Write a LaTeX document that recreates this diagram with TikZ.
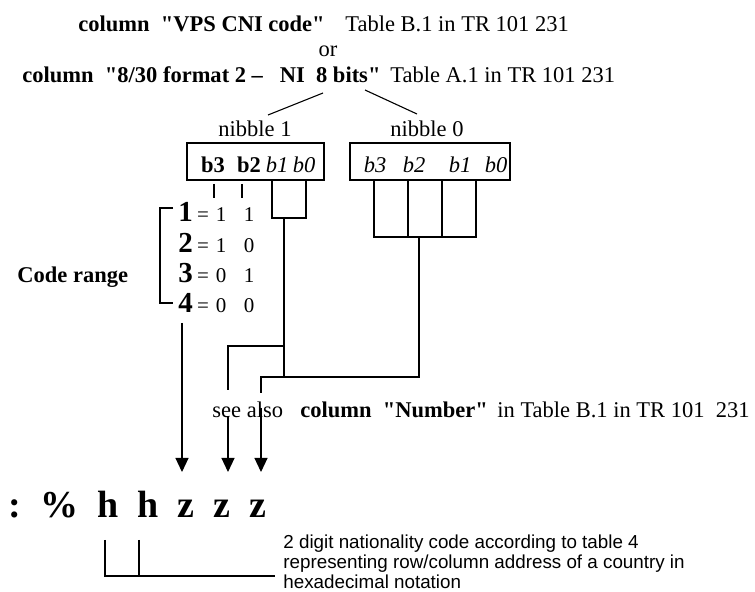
\documentclass[tikz,border=0pt]{standalone}
\usepackage{fontspec}
\setmainfont{Liberation Serif}[Ligatures=TeXOff]
\setsansfont{Liberation Sans}
\usetikzlibrary{arrows.meta}
\newcommand{\rowval}[3]{{\fontsize{14.5pt}{15pt}\selectfont\bfseries #1}\hspace{2.1pt}{\fontsize{10.5pt}{11pt}\selectfont =\hspace{3.5pt}#2\hspace{8.7pt}#3}}
\begin{document}
\begin{tikzpicture}[x=0.5pt,y=-0.5pt,
  txt/.style={inner sep=0pt, font=\fontsize{11.25pt}{13pt}\selectfont},
  btxt/.style={inner sep=0pt, font=\fontsize{11.25pt}{13pt}\selectfont\bfseries},
  itxt/.style={inner sep=0pt, font=\fontsize{11.25pt}{13pt}\selectfont\itshape},
  note/.style={inner sep=0pt, font=\sffamily\fontsize{9.4pt}{10pt}\selectfont},
  wire/.style={line width=0.55pt},
  arr/.style={wire, -{Triangle[width=6.5pt,length=7pt]}},
  bitbox/.style={draw, line width=0.55pt, inner sep=0pt, minimum height=18.5pt}]
\useasboundingbox (0,0) rectangle (755,592);

% ---- top lines
\node[btxt, anchor=base west] (vps) at (78,32) {column\ \ "VPS CNI code"};
\node[txt, anchor=base west] (vpsref) at (345,32) {Table B.1 in TR 101 231};
\node[txt, anchor=base] (or) at (328,57) {or};
\node[btxt, anchor=base west] (ni) at (22,83) {column\ \ "8/30 format 2 –\ \ \ NI\ \ 8 bits"};
\node[txt, anchor=base west] (niref) at (390,83) {Table A.1 in TR 101 231};

% ---- nibbles
\node[txt, anchor=base] (nib1) at (255,137) {nibble 1};
\node[txt, anchor=base] (nib0) at (427,137) {nibble 0};
\coordinate (s1) at (323,93); \coordinate (e1) at (268,115);
\coordinate (s0) at (365,90); \coordinate (e0) at (417,114);
\draw[wire] (s1) -- (e1);
\draw[wire] (s0) -- (e0);

\node[bitbox, minimum width=68.5pt] (box1) at (255.5,161.5) {};
\node[bitbox, minimum width=80pt] (box0) at (430,161.5) {};

\node[btxt, anchor=base] (a3) at (213,173) {b3};
\node[btxt, anchor=base] (a2) at (249,173) {b2};
\node[itxt, anchor=base] (a1) at (277,173) {b1};
\node[itxt, anchor=base] (a0) at (304,173) {b0};

\node[itxt, anchor=base] (c3) at (375,173) {b3};
\node[itxt, anchor=base] (c2) at (414,173) {b2};
\node[itxt, anchor=base] (c1) at (460,173) {b1};
\node[itxt, anchor=base] (c0) at (496,173) {b0};

% ---- wiring nibble 1
\coordinate (a3t) at (214,184); \coordinate (a3b) at (214,198);
\coordinate (a2t) at (242,184); \coordinate (a2b) at (242,198);
\draw[wire] (a3t) -- (a3b);
\draw[wire] (a2t) -- (a2b);
\coordinate (a1t) at (272,180); \coordinate (a1b) at (272,218);
\coordinate (a0t) at (306,180); \coordinate (a0b) at (306,218);
\draw[wire] (a1t) -- (a1b) -- (a0b) -- (a0t);
\coordinate (j1) at (284,218); \coordinate (j2) at (284,346); \coordinate (j3) at (284,377);
\draw[wire] (j1) -- (j3);
\coordinate (k1) at (228,346); \coordinate (k2) at (228,390);
\draw[wire] (j2) -- (k1) -- (k2);

% ---- wiring nibble 0
\coordinate (c3t) at (374,180); \coordinate (c3b) at (374,237);
\coordinate (c2t) at (408,180); \coordinate (c2b) at (408,237);
\coordinate (c1t) at (442,180); \coordinate (c1b) at (442,237);
\coordinate (c0t) at (476,180); \coordinate (c0b) at (476,237);
\draw[wire] (c3t) -- (c3b) -- (c0b) -- (c0t);
\draw[wire] (c2t) -- (c2b);
\draw[wire] (c1t) -- (c1b);
\coordinate (m1) at (419,237); \coordinate (m2) at (419,377);
\coordinate (m3) at (261,377); \coordinate (m4) at (261,393);
\draw[wire] (m1) -- (m2) -- (m3) -- (m4);

% ---- code range
\node[btxt, anchor=base west] (cr) at (17,283) {Code range};
\coordinate (br1) at (173,208); \coordinate (br2) at (160,208);
\coordinate (br3) at (160,303); \coordinate (br4) at (173,303);
\draw[wire] (br1) -- (br2) -- (br3) -- (br4);
\node[txt, anchor=base west] (r1) at (178,222) {\rowval{1}{1}{1}};
\node[txt, anchor=base west] (r2) at (178,253) {\rowval{2}{1}{0}};
\node[txt, anchor=base west] (r3) at (178,283) {\rowval{3}{0}{1}};
\node[txt, anchor=base west] (r4) at (178,313) {\rowval{4}{0}{0}};

% ---- see also
\node[txt, anchor=base west] (see) at (212,418) {see also};
\node[btxt, anchor=base west] (num) at (300,418) {column\ \ "Number"};
\node[txt, anchor=base west] (numref) at (497,418) {in Table B.1 in TR 101\ \ 231};

% ---- arrows
\coordinate (p1) at (182,323); \coordinate (q1) at (182,472);
\coordinate (p2) at (228,416); \coordinate (q2) at (228,472);
\coordinate (p3) at (261,408); \coordinate (q3) at (261,472);
\draw[arr] (p1) -- (q1);
\draw[arr] (p2) -- (q2);
\draw[arr] (p3) -- (q3);

% ---- code string
\node[anchor=base west, inner sep=0pt, font=\fontsize{19pt}{22pt}\selectfont\bfseries] (code) at (8,518) {:\ \ \%\ \ h\ \ h\ \ z\ \ z\ \ z};
\coordinate (h1) at (105,540); \coordinate (h1b) at (105,576);
\coordinate (h2) at (139,540); \coordinate (h2b) at (139,576);
\coordinate (hend) at (275,576);
\draw[wire] (h1) -- (h1b) -- (hend);
\draw[wire] (h2) -- (h2b);

\node[note, anchor=base west] (t1) at (283,549) {2 digit nationality code according to table 4};
\node[note, anchor=base west] (t2) at (283,569) {representing row/column address of a country in};
\node[note, anchor=base west] (t3) at (283,589) {hexadecimal notation};
\end{tikzpicture}
\end{document}
